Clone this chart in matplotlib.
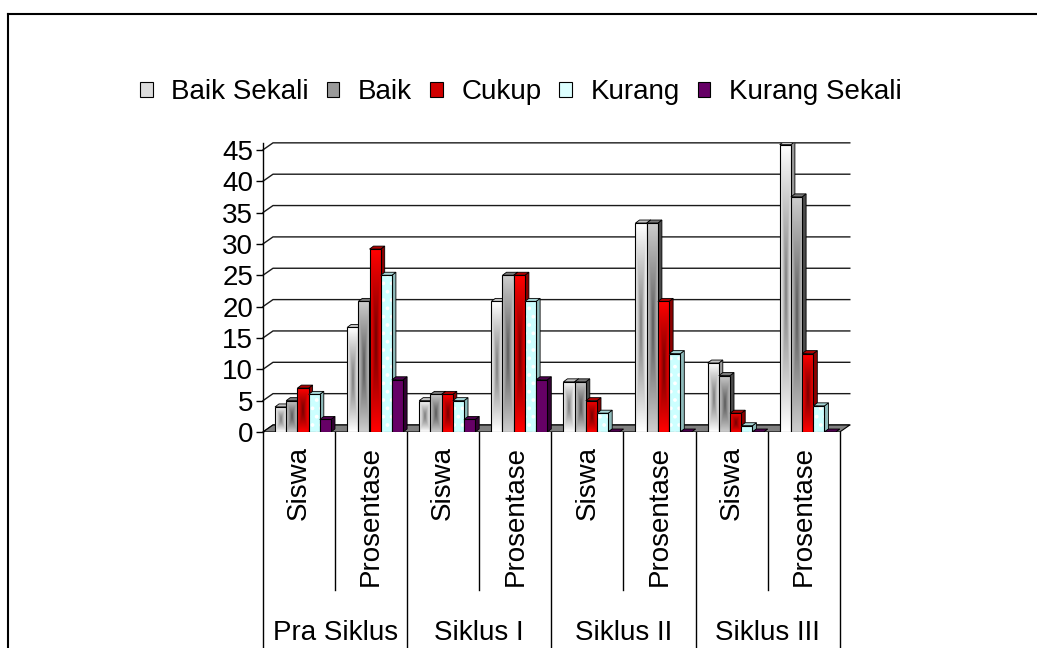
import matplotlib
matplotlib.use('Agg')
import matplotlib.pyplot as plt
import matplotlib.transforms as mtransforms
from matplotlib.patches import Polygon, Patch
from matplotlib.lines import Line2D
import numpy as np

plt.rcParams['font.family'] = ['Liberation Sans', 'DejaVu Sans']
plt.rcParams['hatch.linewidth'] = 1.5

# ---------------- data ----------------
groups = ['Pra Siklus', 'Siklus I', 'Siklus II', 'Siklus III']
subs = ['Siswa', 'Prosentase']
series = ['Baik Sekali', 'Baik', 'Cukup', 'Kurang', 'Kurang Sekali']

baik_sekali = [4, 16.67, 5, 20.83, 8, 33.33, 11, 45.83]
baik = [5, 20.83, 6, 25, 8, 33.33, 9, 37.5]
cukup = [7, 29.17, 6, 25, 5, 20.83, 3, 12.5]
kurang = [6, 25, 5, 20.83, 3, 12.5, 1, 4.17]
kurang_sekali = [2, 8.33, 2, 8.33, 0, 0, 0, 0]
values = [baik_sekali, baik, cukup, kurang, kurang_sekali]

yticks = list(range(0, 50, 5))

# ---------------- styles ----------------
grad_edge = ['#ffffff', '#cccccc', '#ff0000', None, None]
grad_mid = ['#777777', '#555555', '#700000', None, None]
flat_col = [None, None, None, '#ccffff', '#660066']
side_col = ['#9a9a9a', '#4a4a4a', '#8c0000', '#8fbcbc', '#330033']
top_col = ['#c4c4c4', '#7a7a7a', '#b00000', '#a8d8d8', '#4d004d']
legend_col = ['#dcdcdc', '#999999', '#d00000', '#ddffff', '#660066']

W, H = 1037, 648
fig = plt.figure(figsize=(W / 100, H / 100), dpi=100)

# geometry (pixels)
slot_px = 72.1
unit_px = 6.27
dxw = 10 / slot_px      # wall depth
dyw = 7 / unit_px
dxb = 4 / slot_px       # bar depth
dyb = 3 / unit_px
bw = 11.2 / slot_px
off = 12 / slot_px
n = len(baik_sekali)
xmax = n + dxw
ymax = 45 + dyw

ax = fig.add_axes([263 / W, (H - 432) / H, xmax * slot_px / W, ymax * unit_px / H])

# back wall grid lines
for v in yticks:
    ax.plot([0, dxw, n + dxw], [v, v + dyw, v + dyw], color='#1a1a1a',
            lw=1, zorder=2, clip_on=False)

# floor
ax.add_patch(Polygon([(0, 0), (n, 0), (n + dxw, dyw), (dxw, dyw)], closed=True,
                     facecolor='#808080', edgecolor='black', lw=0.8, zorder=3))


def gradient_img(edge, mid, ny=60, nx=30):
    e = np.array(matplotlib.colors.to_rgb(edge))
    m = np.array(matplotlib.colors.to_rgb(mid))
    u = np.abs(np.linspace(-1, 1, nx))[None, :]
    w = np.abs(np.linspace(-1, 1, ny))[:, None]
    t = np.maximum(u, w ** 1.3) ** 0.8
    return m[None, None, :] * (1 - t[..., None]) + e[None, None, :] * t[..., None]


# bars, painted left to right
k = 0
for i in range(n):
    for j in range(len(series)):
        h = values[j][i]
        x0 = i + off + j * bw
        z = 10 + 4 * k
        side = Polygon([(x0 + bw, 0), (x0 + bw + dxb, dyb), (x0 + bw + dxb, h + dyb), (x0 + bw, h)],
                       closed=True, facecolor=side_col[j], edgecolor='black', lw=0.6, zorder=z)
        top = Polygon([(x0, h), (x0 + bw, h), (x0 + bw + dxb, h + dyb), (x0 + dxb, h + dyb)],
                      closed=True, facecolor=top_col[j], edgecolor='black', lw=0.6, zorder=z + 1)
        ax.add_patch(side)
        ax.add_patch(top)
        if flat_col[j] is None:
            b = ax.bar(x0, h, width=bw, align='edge', facecolor='none',
                       edgecolor='black', lw=0.8, zorder=z + 3)[0]
            if h > 0:
                im = ax.imshow(gradient_img(grad_edge[j], grad_mid[j]), extent=[x0, x0 + bw, 0, h],
                               aspect='auto', interpolation='bilinear', zorder=z + 2)
                im.set_clip_path(b)
        else:
            if j == 3:
                ax.bar(x0, h, width=bw, align='edge', facecolor=flat_col[j], edgecolor='white',
                       hatch='..', lw=0, zorder=z + 2)
                ax.bar(x0, h, width=bw, align='edge', facecolor='none', edgecolor='black',
                       lw=0.8, zorder=z + 3)
            else:
                ax.bar(x0, h, width=bw, align='edge', facecolor=flat_col[j],
                       edgecolor='black', lw=0.8, zorder=z + 3)
        k += 1

ax.set_xlim(0, xmax)
ax.set_ylim(0, ymax)
ax.set_yticks(yticks)
ax.set_xticks([])
for s in ['top', 'right', 'bottom']:
    ax.spines[s].set_visible(False)
ax.spines['left'].set_linewidth(1)
ax.tick_params(axis='y', length=5, width=1, direction='out', labelsize=20, pad=2)
ax.patch.set_visible(False)

# category table below the axis
trans = mtransforms.blended_transform_factory(ax.transData, fig.transFigure)
y_axis = 1 - 432 / H
for x in range(0, n + 1, 2):
    ax.plot([x, x], [y_axis, 0], color='black', lw=1, transform=trans, clip_on=False)
for x in range(1, n, 2):
    ax.plot([x, x], [y_axis, 1 - 590 / H], color='black', lw=1, transform=trans, clip_on=False)
for i in range(n):
    ax.text(i + 0.5, 1 - 446 / H, subs[i % 2], rotation=90, ha='center', va='top',
            fontsize=20, transform=trans)
for g in range(len(groups)):
    ax.text(2 * g + 1, 1 - 633 / H, groups[g], ha='center', va='center',
            fontsize=20, transform=trans)

# legend
handles = [Patch(facecolor=legend_col[j], edgecolor='black', lw=0.8) for j in range(len(series))]
fig.legend(handles, series, loc='center', bbox_to_anchor=(521 / W, 1 - 92 / H), ncol=5,
           frameon=False, fontsize=20, handlelength=0.45, handleheight=0.45,
           handletextpad=0.68, columnspacing=0.64, borderpad=0)

# chart border
fig.add_artist(Line2D([8 / W, 8 / W], [0, 1 - 14 / H], color='black', lw=1.5,
                      transform=fig.transFigure))
fig.add_artist(Line2D([8 / W, 1], [1 - 14 / H, 1 - 14 / H], color='black', lw=1.5,
                      transform=fig.transFigure))

fig.savefig('out.png', dpi=100)
